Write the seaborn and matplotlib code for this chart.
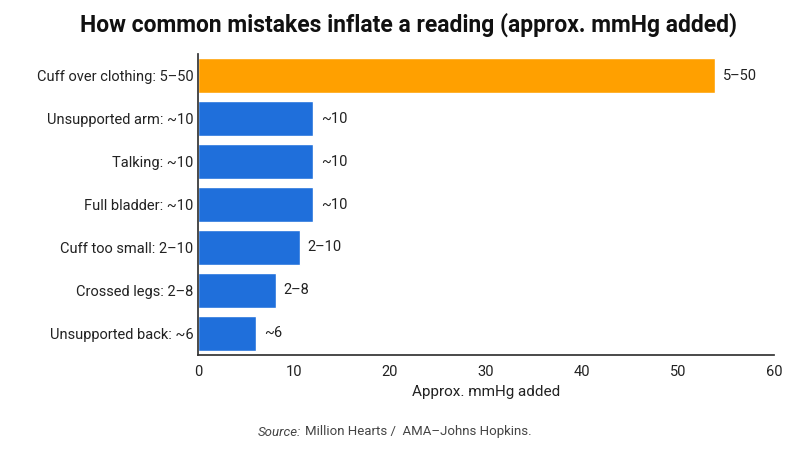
import matplotlib
matplotlib.use("Agg")
import matplotlib.pyplot as plt
import seaborn as sns
import pandas as pd

categories = ["Cuff over clothing: 5–50", "Unsupported arm: ~10", "Talking: ~10",
              "Full bladder: ~10", "Cuff too small: 2–10", "Crossed legs: 2–8",
              "Unsupported back: ~6"]
values = [53.9, 12.0, 12.0, 12.0, 10.6, 8.1, 6.05]
labels = ["5–50", "~10", "~10", "~10", "2–10", "2–8", "~6"]
colors = ["#FFA000", "#1F6FDB", "#1F6FDB", "#1F6FDB", "#1F6FDB", "#1F6FDB", "#1F6FDB"]

sns.set_theme(style="white")
plt.rcParams['font.family'] = ['Roboto', 'DejaVu Sans']
df = pd.DataFrame({"cat": categories, "val": values})
fig = plt.figure(figsize=(8, 4.5), dpi=100)
ax = fig.add_axes([0.2475, 0.212, 0.72, 0.667])
sns.barplot(data=df, x="val", y="cat", hue="cat", palette=colors, legend=False,
            width=0.82, ax=ax, saturation=1)
for i, (v, l) in enumerate(zip(values, labels)):
    ax.text(v + 0.8, i, l, va="center", ha="left", fontsize=10.5, color="#222222")
ax.set_xlim(0, 60)
ax.set_xticks(range(0, 61, 10))
ax.set_ylabel("")
ax.set_xlabel("Approx. mmHg added", fontsize=11, color="#222222")
ax.tick_params(axis="both", labelsize=10.5, colors="#222222", length=0)
ax.tick_params(axis="x", length=4, color="#333333")
for s in ["top", "right"]:
    ax.spines[s].set_visible(False)
for s in ["left", "bottom"]:
    ax.spines[s].set_color("#333333")
fig.text(0.51, 0.945, "How common mistakes inflate a reading (approx. mmHg added)",
         ha="center", va="center", fontsize=16.5, fontweight="bold", color="#111111")
fig.text(0.376, 0.04, "Source:", ha="right", va="center", fontsize=9.5,
         style="italic", color="#444444")
fig.text(0.381, 0.04, "Million Hearts /  AMA–Johns Hopkins.", ha="left", va="center",
         fontsize=9.5, color="#444444")
fig.savefig("out.png", dpi=100)
